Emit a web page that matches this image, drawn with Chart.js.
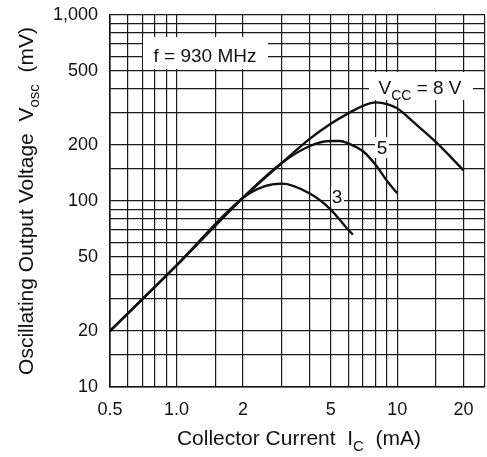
<!DOCTYPE html>
<html>
<head>
<meta charset="utf-8">
<script src="https://cdn.jsdelivr.net/npm/chart.js@4.4.1/dist/chart.umd.min.js"></script>
<style>
  html, body { margin: 0; padding: 0; background: #fff; }
  #wrap { width: 487px; height: 457px; }
</style>
</head>
<body>
<div id="wrap"><canvas id="chart" width="487" height="457"></canvas></div>
<script>
// collector current (mA) / oscillating output voltage (mV)
var ic8 = [0.5, 1, 2, 3, 4, 5, 6, 7, 8, 9, 10, 12, 15, 20];
var vosc8 = [20, 45, 104, 160, 215, 260, 296, 325, 339, 332, 315, 262, 207, 146];

var ic5 = [0.5, 1, 2, 3, 4, 5, 5.5, 6, 7, 8, 9, 10];
var vosc5 = [20, 45, 104, 160, 197, 210, 210, 204, 185, 156, 128, 110];

var ic3 = [0.5, 1, 2, 2.5, 3, 4, 5, 6, 6.3];
var vosc3 = [20, 45, 104, 120, 124, 110, 90, 70, 66];

// grid lines and tick labels
var xGrid = [0.5, 0.6, 0.7, 0.8, 0.9, 1, 1.5, 2, 3, 4, 5, 6, 7, 8, 9, 10, 15, 20, 25];
var xTickLabels = {0.5: '0.5', 1: '1.0', 2: '2', 5: '5', 10: '10', 20: '20'};
var yGrid = [10, 15, 20, 30, 40, 50, 60, 70, 80, 90, 100, 150, 200, 300, 400, 500, 600, 700, 800, 900, 1000];
var yTickLabels = {10: '10', 20: '20', 50: '50', 100: '100', 200: '200', 500: '500', 1000: '1,000'};

var FONT = "'Liberation Sans', Arial, Helvetica, sans-serif";

function points(xs, ys) {
  return xs.map(function (x, i) { return {x: x, y: ys[i]}; });
}

// draw a text run with subscripts
function richWidth(ctx, parts, size) {
  var w = 0;
  parts.forEach(function (p) {
    ctx.font = (p.sub ? Math.round(size * 0.72) : size) + 'px ' + FONT;
    w += ctx.measureText(p.t).width;
  });
  return w;
}
function drawRich(ctx, parts, x, y, size) {
  var w = richWidth(ctx, parts, size);
  var cx = x - w / 2;
  ctx.textAlign = 'left';
  ctx.textBaseline = 'alphabetic';
  parts.forEach(function (p) {
    ctx.font = (p.sub ? Math.round(size * 0.72) : size) + 'px ' + FONT;
    ctx.fillText(p.t, cx, p.sub ? y + size * 0.3 : y);
    cx += ctx.measureText(p.t).width;
  });
}

var labelsPlugin = {
  id: 'labels',
  beforeDatasetsDraw: function (c) {
    var ctx = c.ctx;
    ctx.save();
    ctx.fillStyle = '#fff';
    ctx.fillRect(143, 37, 125, 32);
    ctx.fillRect(369, 72, 104, 28);
    ctx.fillRect(375, 137, 14, 21);
    ctx.fillRect(331, 186, 13, 20);
    ctx.fillStyle = '#111';
    drawRich(ctx, [{t: 'f = 930 MHz'}], 205, 62, 19);
    drawRich(ctx, [{t: 'V'}, {t: 'CC', sub: true}, {t: ' = 8 V'}], 420, 94, 19);
    drawRich(ctx, [{t: '5'}], 382, 154, 19);
    drawRich(ctx, [{t: '3'}], 337, 203, 19);
    ctx.restore();
  },
  afterDraw: function (c) {
    var ctx = c.ctx;
    ctx.save();
    ctx.fillStyle = '#111';
    drawRich(ctx, [{t: 'Collector Current  I'}, {t: 'C', sub: true}, {t: '  (mA)'}], 299, 445, 21);
    ctx.translate(26, 201);
    ctx.rotate(-Math.PI / 2);
    drawRich(ctx, [{t: 'Oscillating Output Voltage  V'}, {t: 'osc', sub: true}, {t: '  (mV)'}], 0, 7, 21);
    ctx.restore();
  }
};

var lineStyle = {
  borderColor: '#111',
  borderWidth: 2.4,
  pointRadius: 0,
  fill: false,
  cubicInterpolationMode: 'monotone'
};

new Chart(document.getElementById('chart'), {
  type: 'line',
  data: {
    datasets: [
      Object.assign({label: 'VCC = 8 V', data: points(ic8, vosc8)}, lineStyle),
      Object.assign({label: 'VCC = 5 V', data: points(ic5, vosc5)}, lineStyle),
      Object.assign({label: 'VCC = 3 V', data: points(ic3, vosc3)}, lineStyle)
    ]
  },
  options: {
    responsive: false,
    animation: false,
    layout: {padding: {top: 15, right: 2, left: 0, bottom: 0}},
    plugins: {
      legend: {display: false},
      tooltip: {enabled: false}
    },
    scales: {
      x: {
        type: 'logarithmic',
        min: 0.5,
        max: 25,
        afterFit: function (s) {
          s.height = 70;
          s.paddingLeft = 0;
          s.paddingRight = 0;
        },
        afterBuildTicks: function (s) {
          s.ticks = xGrid.map(function (v) { return {value: v}; });
        },
        grid: {color: '#1a1a1a', lineWidth: 1.2, drawTicks: false},
        border: {color: '#111', width: 1.6},
        ticks: {
          autoSkip: false,
          maxRotation: 0,
          padding: 12,
          color: '#111',
          font: {family: FONT, size: 18},
          callback: function (v) { return xTickLabels[v] || ''; }
        }
      },
      y: {
        type: 'logarithmic',
        min: 10,
        max: 1000,
        afterFit: function (s) {
          s.width = 110;
          s.paddingTop = 0;
          s.paddingBottom = 0;
        },
        afterBuildTicks: function (s) {
          s.ticks = yGrid.map(function (v) { return {value: v}; });
        },
        grid: {color: '#1a1a1a', lineWidth: 1.2, drawTicks: false},
        border: {color: '#111', width: 1.6},
        ticks: {
          autoSkip: false,
          padding: 12,
          color: '#111',
          font: {family: FONT, size: 18},
          callback: function (v) { return yTickLabels[v] || ''; }
        }
      }
    }
  },
  plugins: [labelsPlugin]
});
</script>
</body>
</html>
